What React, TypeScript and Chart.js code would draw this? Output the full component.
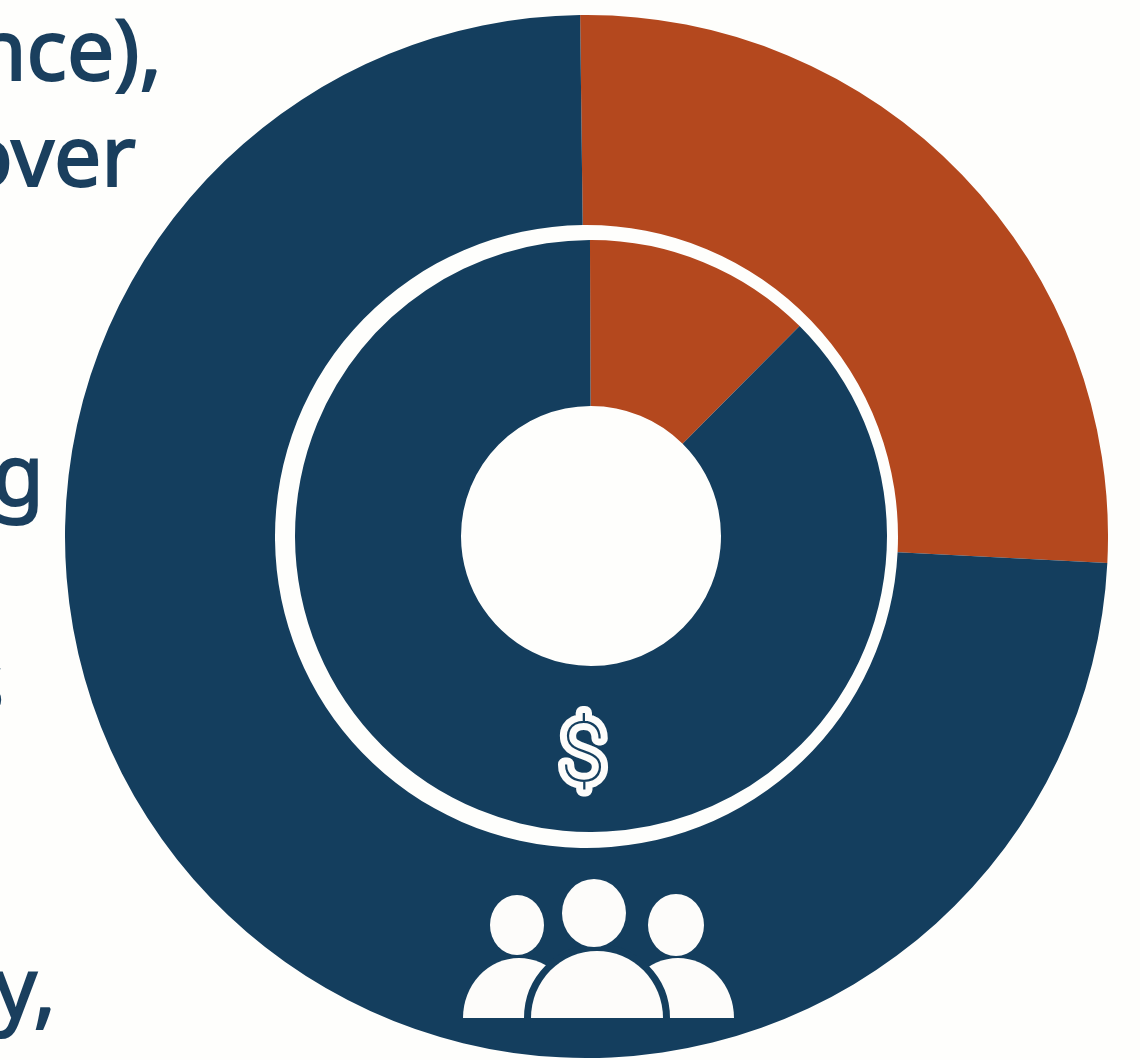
import React, { useEffect, useRef } from "react";
import { Chart, registerables } from "chart.js";

Chart.register(...registerables);

const categories = ["Orange share", "Navy share"];
const outerValues = [26, 74];
const innerValues = [12.5, 87.5];
const sideText = ["nce),", "over", "g", "s", "y,"];

const NAVY = "#143e5e";
const ORANGE = "#b4481e";
const PAPER = "#fefefc";
const INK = "#1a3f5e";
const ICON = "#fdfcfa";
const SOFT = "blur(0.7px)";

const peoplePlugin = {
  id: "people",
  afterDraw(chart: any) {
    const c = chart.ctx;
    const X = (v: number) => v - chart.canvas.offsetLeft;
    const Y = (v: number) => v - chart.canvas.offsetTop;
    c.save();
    c.fillStyle = ICON;
    const body = (x: number, rx: number, ry: number) => {
      c.beginPath();
      c.ellipse(X(x), Y(1018), rx, ry, 0, Math.PI, Math.PI * 2);
      c.closePath();
    };
    body(519, 56, 60);
    c.fill();
    body(678, 56, 60);
    c.fill();
    c.strokeStyle = NAVY;
    c.lineWidth = 14;
    body(597, 66, 67);
    c.stroke();
    c.fillStyle = NAVY;
    c.fillRect(X(440), Y(1018), 310, 12);
    c.fillStyle = ICON;
    body(597, 66, 67);
    c.fill();
    const head = (x: number, y: number, rx: number, ry: number) => {
      c.beginPath();
      c.ellipse(X(x), Y(y), rx, ry, 0, 0, Math.PI * 2);
      c.fill();
    };
    head(517, 925, 27, 30);
    head(594, 913, 32, 34);
    head(676, 925, 28, 31);
    c.restore();
  },
};

const dollarPlugin = {
  id: "dollar",
  afterDraw(chart: any) {
    const c = chart.ctx;
    const X = (v: number) => v - chart.canvas.offsetLeft;
    const Y = (v: number) => v - chart.canvas.offsetTop;
    c.save();
    c.font = "100 84px Roboto";
    c.textAlign = "center";
    c.textBaseline = "alphabetic";
    c.lineJoin = "round";
    c.strokeStyle = ICON;
    c.lineWidth = 14;
    c.strokeText("$", X(583), Y(781));
    c.fillStyle = NAVY;
    c.fillText("$", X(583), Y(781));
    c.restore();
  },
};

function ring(
  canvas: HTMLCanvasElement,
  values: number[],
  radius: number,
  cutout: number,
  rotation: number,
  plugins: any[]
) {
  return new Chart(canvas, {
    type: "doughnut",
    data: {
      labels: categories,
      datasets: [{ data: values, backgroundColor: [ORANGE, NAVY], borderWidth: 0 }],
    },
    options: {
      responsive: false,
      animation: false,
      rotation,
      radius,
      cutout,
      layout: { padding: 0 },
      plugins: { legend: { display: false }, tooltip: { enabled: false } },
    },
    plugins,
  } as any);
}

export default function App() {
  const outerRef = useRef<HTMLCanvasElement>(null);
  const innerRef = useRef<HTMLCanvasElement>(null);
  useEffect(() => {
    const outer = ring(outerRef.current!, outerValues, 521.5, 311.5, -0.7, [peoplePlugin]);
    const inner = ring(innerRef.current!, innerValues, 296, 130, -0.2, [dollarPlugin]);
    return () => {
      outer.destroy();
      inner.destroy();
    };
  }, []);

  const textStyle = (right: number, baseline: number): React.CSSProperties => ({
    position: "absolute",
    right: 1140 - right,
    top: baseline - 92,
    height: 120,
    lineHeight: "120px",
    fontFamily: '"Noto Sans", sans-serif',
    fontSize: 84,
    color: INK,
    whiteSpace: "nowrap",
    WebkitTextStroke: `2px ${INK}`,
    paintOrder: "stroke fill",
    filter: SOFT,
  });

  return (
    <div
      style={{
        position: "absolute",
        left: 0,
        top: 0,
        width: 1140,
        height: 1060,
        overflow: "hidden",
        background: PAPER,
      }}
    >
      <div style={textStyle(162, 80)}>{sideText[0]}</div>
      <div style={textStyle(136, 186)}>{sideText[1]}</div>
      <div style={textStyle(44, 505)}>{sideText[2]}</div>
      <div style={textStyle(4, 712)}>{sideText[3]}</div>
      <div style={textStyle(56, 1018)}>{sideText[4]}</div>
      <canvas
        ref={outerRef}
        width={1043}
        height={1043}
        style={{ position: "absolute", left: 65, top: 15, filter: SOFT }}
      />
      <canvas
        ref={innerRef}
        width={592}
        height={592}
        style={{ position: "absolute", left: 295, top: 240, filter: SOFT }}
      />
    </div>
  );
}
